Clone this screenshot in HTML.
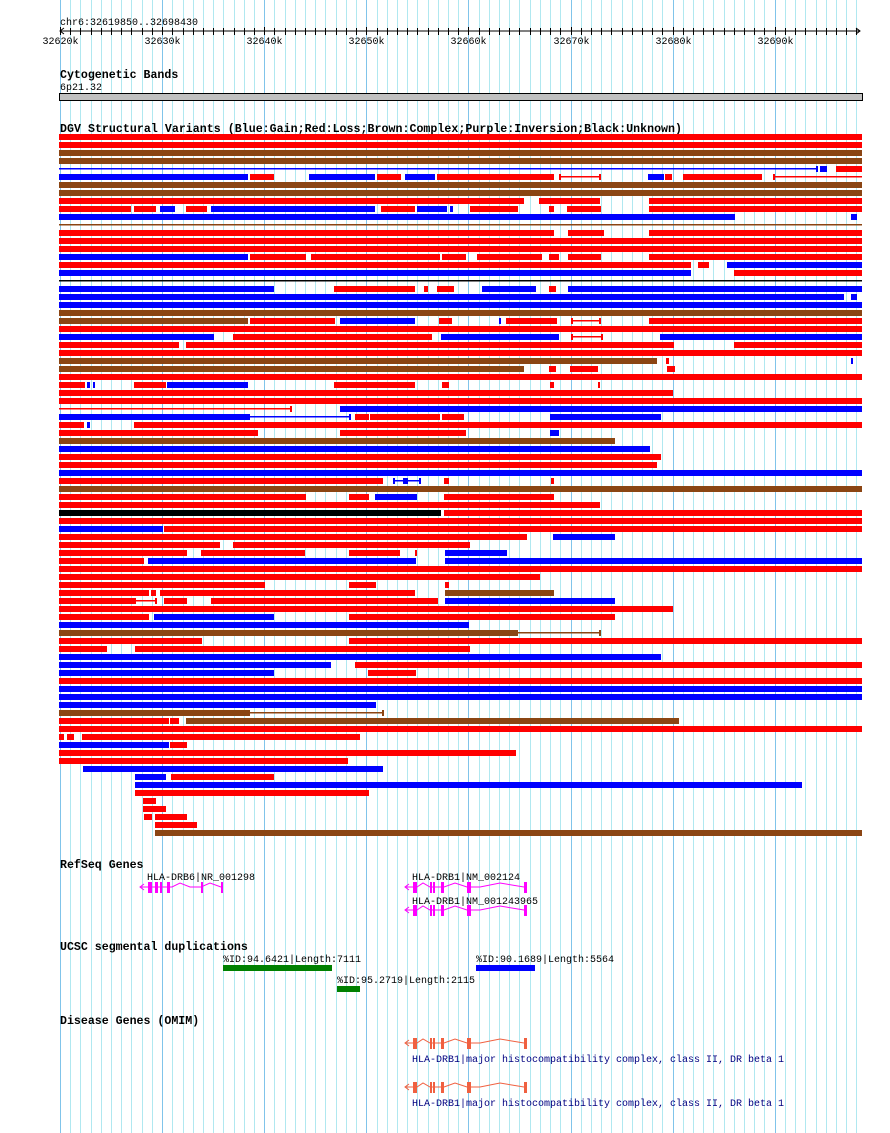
<!DOCTYPE html>
<html><head><meta charset="utf-8"><style>
html,body{margin:0;padding:0;background:#fff;width:890px;height:1133px;overflow:hidden}
svg{display:block}
text{font-family:"Liberation Mono",monospace;font-size:10px;fill:#000}
.b{font-weight:bold;font-size:11.6px}
</style></head><body>
<svg id="s" width="890" height="1133" xmlns="http://www.w3.org/2000/svg">
<g id="grid"></g>
<text x="60" y="25">chr6:32619850..32698430</text>
<line x1="60" y1="31" x2="860" y2="31" stroke="#000"/>
<polyline points="64,28 60,31 64,34" fill="none" stroke="#000"/>
<polyline points="856,28 860,31 856,34" fill="none" stroke="#000"/>
<g id="ticks"></g>
<text class="b" x="60" y="78">Cytogenetic Bands</text>
<text x="60" y="90">6p21.32</text>
<rect x="59.5" y="93.5" width="803" height="7" fill="#c0c0c0" stroke="#000"/>
<text class="b" x="60" y="132" textLength="622">DGV Structural Variants (Blue:Gain;Red:Loss;Brown:Complex;Purple:Inversion;Black:Unknown)</text>
<g id="rows"></g>
<text class="b" x="60" y="868">RefSeq Genes</text>
<text x="147" y="880">HLA-DRB6|NR_001298</text>
<text x="412" y="880">HLA-DRB1|NM_002124</text>
<text x="412" y="904">HLA-DRB1|NM_001243965</text>
<g id="genes"></g>
<text class="b" x="60" y="950">UCSC segmental duplications</text>
<text x="223" y="962">%ID:94.6421|Length:7111</text>
<rect x="223" y="965" width="109" height="6" fill="#008000"/>
<text x="337" y="983">%ID:95.2719|Length:2115</text>
<rect x="337" y="986" width="23" height="6" fill="#008000"/>
<text x="476" y="962">%ID:90.1689|Length:5564</text>
<rect x="476" y="965" width="59" height="6" fill="#0000ff"/>
<text class="b" x="60" y="1024">Disease Genes (OMIM)</text>
<text x="412" y="1062" style="fill:#000080">HLA-DRB1|major histocompatibility complex, class II, DR beta 1</text>
<text x="412" y="1106" style="fill:#000080">HLA-DRB1|major histocompatibility complex, class II, DR beta 1</text>
</svg>
<script>
var NS="http://www.w3.org/2000/svg";
function el(p,t,a){var e=document.createElementNS(NS,t);for(var k in a)e.setAttribute(k,a[k]);document.getElementById(p).appendChild(e);return e;}
var step=10.21;
for(var i=0;i<=78;i++){var x=Math.round(60+i*step)+0.5;var maj=i%10==0;
el("grid","line",{x1:x,y1:0,x2:x,y2:1133,stroke:maj?"#80c4ea":"#b0e8f0","stroke-width":1});
el("ticks","line",{x1:x,y1:maj?27:28,x2:x,y2:35,stroke:"#000"});
if(maj){var t=el("ticks","text",{x:x,y:44,"text-anchor":"middle"});t.textContent=(32620+i)+"k";}}
var C={R:"#ff0000",B:"#0000ff",N:"#8b4513",K:"#000000"};
var rows=[
"R59-862","R59-862","N59-862","N59-862",
"Bt59-817 B820-827 R836-862",
"B59-248 R250-274 B309-375 R377-401 B405-435 R437-554 Rt559-600 B648-664 R665-672 R683-762 Rt773-862",
"N59-862","N59-862",
"R59-524 R539-600 R649-862",
"R59-131 R134-156 B160-175 R186-207 B211-375 R381-415 B417-447 B450-453 R470-518 R549-554 R567-601 R649-862",
"B59-735 B851-857",
"Nt59-862",
"R59-554 R568-604 R649-862","R59-862","R59-862",
"B59-248 R250-306 R311-440 R442-466 R477-542 R549-559 R568-601 R649-862",
"R59-691 R698-709 B727-862",
"B59-691 R734-862",
"Kt59-862",
"B59-274 R334-415 R424-428 R437-454 B482-536 R549-556 B568-862",
"B59-844 B851-857","B59-862","N59-862",
"N59-248 R250-335 B340-415 R439-452 B499-501 R506-557 Rt571-600 R649-862",
"R59-862",
"B59-214 R233-432 B441-559 Rt571-602 B660-862",
"R59-179 R186-674 R734-862",
"R59-862",
"N59-657 R666-669 B851-853",
"N59-524 R549-556 R570-598 R667-675",
"R59-862",
"R59-85 B87-90 B93-95 R134-166 B167-248 R334-415 R442-449 R550-554 R598-600",
"R59-673","R59-862",
"Rt59-291 B340-862",
"B59-248 Bt248-350 R355-369 R370-440 R442-464 B550-661",
"R59-84 B87-90 R134-862",
"R59-258 R340-466 B550-559",
"N59-615","B59-650","R59-661","R59-657","B59-862",
"R59-383 Bt393-420 B403-408 R444-449 R551-554",
"N59-862",
"R59-306 R349-369 B375-417 R444-554",
"R59-600",
"K59-441 R444-862",
"R59-862",
"B59-163 R164-862",
"R59-527 B553-615",
"R59-220 R233-470",
"R59-187 R201-305 R349-400 R415-417 B445-507",
"R59-144 B148-416 B445-862",
"R59-862","R59-540",
"R59-265 R349-376 R445-449",
"R59-149 R151-156 R160-415 N445-554",
"R59-134 Rt134-156 R164-187 R211-438 B445-615",
"R59-673",
"R59-149 B154-274 R349-615",
"B59-469",
"N59-516 Nt516-600",
"R59-202 R349-862",
"R59-107 R135-470",
"B59-661",
"B59-331 R355-862",
"B59-274 R368-416",
"R59-862","B59-862","B59-862",
"B59-376",
"N59-248 Nt248-383",
"R59-169 R170-179 N186-679",
"R59-862",
"R59-64 R67-74 R82-360",
"B59-169 R170-187",
"R59-516","R59-348",
"B83-383",
"B135-166 R171-274",
"B135-802",
"R135-369",
"R143-156","R143-166",
"R144-152 R155-187",
"R155-197",
"N155-862"];
rows.forEach(function(r,i){var y=134+8*i;r.split(" ").forEach(function(s){
var c=C[s[0]],thin=s[1]=="t",nums=s.replace(/^[A-Z]t?/,"").split("-"),a=+nums[0],b=+nums[1];
if(thin){el("rows","rect",{x:a,y:y+2,width:b-a,height:1.5,fill:c});
if(b<860)el("rows","rect",{x:b-1,y:y,width:2,height:6,fill:c});
if(a>60)el("rows","rect",{x:a,y:y,width:2,height:6,fill:c});
}else el("rows","rect",{x:a,y:y,width:b-a,height:6,fill:c});});});
function gene(y,col,pts,ex){
el("genes","polyline",{points:pts,fill:"none",stroke:col,"stroke-width":1});
ex.forEach(function(e){el("genes","rect",{x:e[0],y:y-5,width:e[1]-e[0],height:11,fill:col});});
var x0=+pts.split(" ")[0].split(",")[0];
el("genes","polyline",{points:(x0+4)+","+(y-3)+" "+x0+","+y+" "+(x0+4)+","+(y+3),fill:"none",stroke:col});}
gene(887,"#ff00ff","140,887 148,887 172,887 180,883 190,887 201,887 210,883 221,887",[[148,152],[155,158],[160,162],[167,170],[201,203],[221,223]]);
var drb=[[413,417],[430,432],[433,435],[441,444],[467,471],[524,527]];
function drbp(y){return "405,"+y+" 417,"+y+" 423,"+(y-4)+" 430,"+y+" 444,"+y+" 455,"+(y-4)+" 467,"+y+" 480,"+y+" 500,"+(y-4)+" 524,"+y;}
gene(887,"#ff00ff",drbp(887),drb);
gene(910,"#ff00ff",drbp(910),drb);
gene(1043,"#f06040",drbp(1043),drb);
gene(1087,"#f06040",drbp(1087),drb);
</script>
</body></html>
